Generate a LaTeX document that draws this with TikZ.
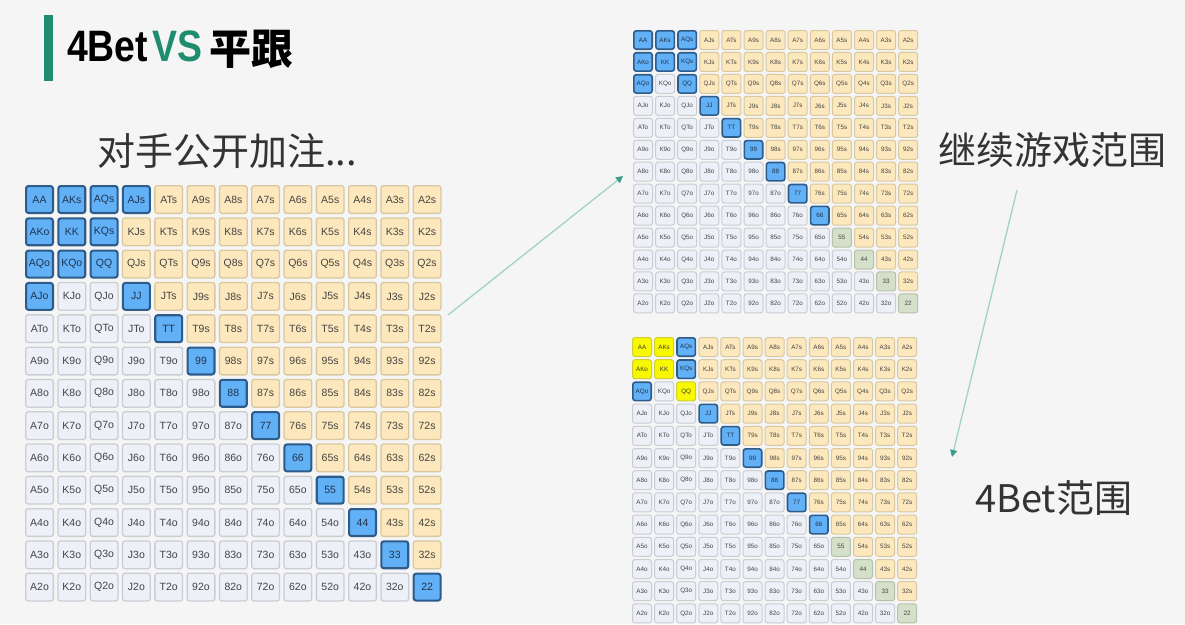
\documentclass[tikz,border=0pt]{standalone}
\usepackage{fontspec}
\setmainfont{Liberation Sans}
\newfontfamily\cjk{Noto Sans CJK SC}
\usetikzlibrary{arrows.meta}
\definecolor{bg}{HTML}{F5F5F5}
\definecolor{bluF}{HTML}{62B0F6}\definecolor{bluD}{HTML}{2D5B8A}\definecolor{bluT}{HTML}{1F3550}
\definecolor{tanF}{HTML}{FCE8BC}\definecolor{tanD}{HTML}{D8C8A0}\definecolor{tanT}{HTML}{444444}
\definecolor{gryF}{HTML}{EDF0F6}\definecolor{gryD}{HTML}{CACDD4}\definecolor{gryT}{HTML}{444444}
\definecolor{grnF}{HTML}{D4E0CA}\definecolor{grnD}{HTML}{B5C2AA}\definecolor{grnT}{HTML}{444444}
\definecolor{ylwF}{HTML}{F8F800}\definecolor{ylwD}{HTML}{CFCF30}\definecolor{ylwT}{HTML}{3A3A3A}
\definecolor{titlegreen}{HTML}{1E8C6E}
\definecolor{arrowline}{HTML}{9ED3C5}
\definecolor{arrowtip}{HTML}{3A9C8A}
\definecolor{labelgray}{HTML}{333333}
\newcommand\rk[1]{\ifcase#1 A\or K\or Q\or J\or T\or 9\or 8\or 7\or 6\or 5\or 4\or 3\or 2\fi}
\newcommand\setcls[3]{\expandafter\xdef\csname cls@#1@#2\endcsname{#3}}
\def\blutmp{blu}
\newcommand\drawgrid[8]{%
 \foreach \i in {0,...,12}{%
  \foreach \j in {0,...,12}{%
   \ifcsname cls@#1@\i-\j\endcsname
     \edef\cls{\csname cls@#1@\i-\j\endcsname}%
   \else
     \ifnum\i<\j \def\cls{tan}\else \def\cls{gry}\fi
   \fi
   \ifx\cls\blutmp \pgfmathsetmacro\lw{1.6*#8}\else\pgfmathsetmacro\lw{#8}\fi
   \ifnum\i=\j \edef\lab{\rk\i\rk\i}\else\ifnum\i<\j \edef\lab{\rk\i\rk\j s}\else\edef\lab{\rk\j\rk\i o}\fi\fi
   \node[hand=\cls, line width=\lw pt, minimum size={#6-\lw}, font=\fontsize{#7}{#7}\selectfont]
     (#1-\i-\j) at ({#2+#6/2+\j*#4},{#3+#6/2+\i*#5}) {\lab};
  }}}
\begin{document}
\begin{tikzpicture}[x=1pt,y=-1pt,
  hand/.style={fill=#1F, draw=#1D, text=#1T, rounded corners=2.5pt, inner sep=0pt},
  link/.style={draw=arrowline, line width=1.3pt, -{Triangle[length=7pt,width=7pt,color=arrowtip]}},
  label/.style={inner sep=0pt, text=labelgray, font=\cjk\fontsize{38}{38}\selectfont}]
\useasboundingbox (0,0) rectangle (1185,624);
\fill[bg] (0,0) rectangle (1185,624);
% classes
\foreach \k in {0,...,12}{\setcls{big}{\k-\k}{blu}}
\foreach \p in {0-1,0-2,0-3,1-0,1-2,2-0,2-1,3-0}{\setcls{big}{\p}{blu}}
\foreach \k in {0,...,8}{\setcls{top}{\k-\k}{blu}\setcls{bot}{\k-\k}{blu}}
\foreach \k in {9,...,12}{\setcls{top}{\k-\k}{grn}\setcls{bot}{\k-\k}{grn}}
\foreach \p in {0-1,0-2,1-0,1-2,2-0}{\setcls{top}{\p}{blu}}
\foreach \p in {0-0,0-1,1-0,1-1,2-2}{\setcls{bot}{\p}{ylw}}
\foreach \p in {0-2,1-2,2-0}{\setcls{bot}{\p}{blu}}
% title
\fill[titlegreen] (44,15) rectangle (53,81);
\node[inner sep=0pt, anchor=west, xscale=0.85, font=\bfseries\fontsize{44}{44}\selectfont] (t4bet) at (67,46.5) {4Bet};
\node[inner sep=0pt, anchor=west, xscale=0.85, text=titlegreen, font=\bfseries\fontsize{44}{44}\selectfont] (tvs) at (152,46.5) {VS};
\node[inner sep=0pt, anchor=west, font=\cjk\bfseries\fontsize{42}{42}\selectfont] (tcall) at (209,49) {平跟};
% labels
\node[label, anchor=west] (lopen) at (97,151) {对手公开加注...};
\node[label, anchor=west] (lcont) at (938,150) {继续游戏范围};
\node[label, anchor=west] (l4bet) at (975,498) {4Bet范围};
% grids
\drawgrid{big}{25}{185}{32.3}{32.3}{29}{10.5}{1.3}
\drawgrid{top}{633}{30}{22.1}{21.95}{20}{6.3}{1}
\drawgrid{bot}{632}{337}{22.1}{22.2}{20}{6.3}{1}
% arrows
\coordinate (a1s) at (448,315);
\coordinate (a1e) at (623,176);
\coordinate (a2s) at (1017,190);
\coordinate (a2e) at (952,457);
\draw[link] (a1s) -- (a1e);
\draw[link] (a2s) -- (a2e);
\end{tikzpicture}
\end{document}
